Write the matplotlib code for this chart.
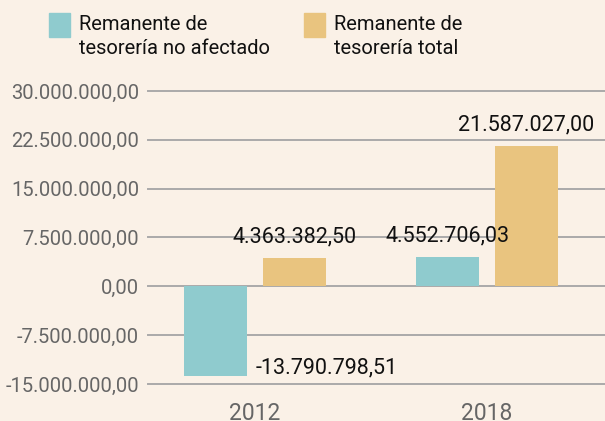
import numpy as np
import matplotlib
matplotlib.use("Agg")
import matplotlib.pyplot as plt
from matplotlib.patches import Rectangle

# datos
years = ["2012", "2018"]
no_afectado = [-13790798.51, 4552706.03]
total = [4363382.50, 21587027.00]
yticks = [-15000000, -7500000, 0, 7500000, 15000000, 22500000, 30000000]
series_names = ["Remanente de\ntesorería no afectado", "Remanente de\ntesorería total"]

BG = "#faf1e7"
TEAL = "#8fcbce"
TAN = "#e9c47f"
GRIS = "#666666"


def fmt_es(v):
    s = f"{v:,.2f}"
    return s.replace(",", "X").replace(".", ",").replace("X", ".")


plt.rcParams['font.family'] = ['Roboto', 'DejaVu Sans']

W, H = 605, 421
fig = plt.figure(figsize=(W / 100, H / 100), dpi=100)
fig.patch.set_facecolor(BG)

# ejes en pixeles: x 148..605, y 91..384
ax = fig.add_axes([148 / W, (H - 384) / H, (W - 148) / W, (384 - 91) / H])
ax.set_facecolor(BG)
for s in ax.spines.values():
    s.set_visible(False)

x = np.arange(len(years))
ancho = 0.2716
off = 0.170
ax.set_xlim(-0.461, -0.461 + 457 / 232)
ax.set_ylim(yticks[0], yticks[-1])

for t in yticks:
    ax.axhline(t, color="#aaaaaa", lw=1.4, zorder=0, clip_on=False)

b1 = ax.bar(x - off, no_afectado, ancho, color=TEAL, zorder=2)
b2 = ax.bar(x + off, total, ancho, color=TAN, zorder=2)

ax.set_yticks(yticks)
ax.set_yticklabels([fmt_es(t) for t in yticks])
ax.tick_params(axis="y", length=0, pad=6.5, labelsize=14.5, labelcolor=GRIS)
ax.set_xticks(x)
ax.set_xticklabels(years)
ax.tick_params(axis="x", length=0, pad=13, labelsize=16.5, labelcolor=GRIS)

# etiquetas de valores
for serie, barras in [(no_afectado, b1), (total, b2)]:
    for v, b in zip(serie, barras):
        if v >= 0:
            ax.annotate(fmt_es(v), (b.get_x() + b.get_width() / 2, v),
                        xytext=(0, 15), textcoords="offset points",
                        ha="center", va="center", fontsize=15.5,
                        color="#111111", zorder=3)
        else:
            ax.annotate(fmt_es(v), (b.get_x() + b.get_width(), v),
                        xytext=(6.5, 6), textcoords="offset points",
                        ha="left", va="center", fontsize=15.5,
                        color="#111111", zorder=3)

# leyenda
for i, (nombre, col) in enumerate(zip(series_names, [TEAL, TAN])):
    x0 = 49 + i * 255
    fig.patches.append(Rectangle((x0 / W, (H - 37) / H), 21 / W, 24 / H,
                                 transform=fig.transFigure, color=col))
    fig.text((x0 + 30) / W, (H - 15) / H, nombre, ha="left", va="top",
             fontsize=14.5, color="#111111", linespacing=1.3)

fig.savefig("out.png", dpi=100, facecolor=BG)
